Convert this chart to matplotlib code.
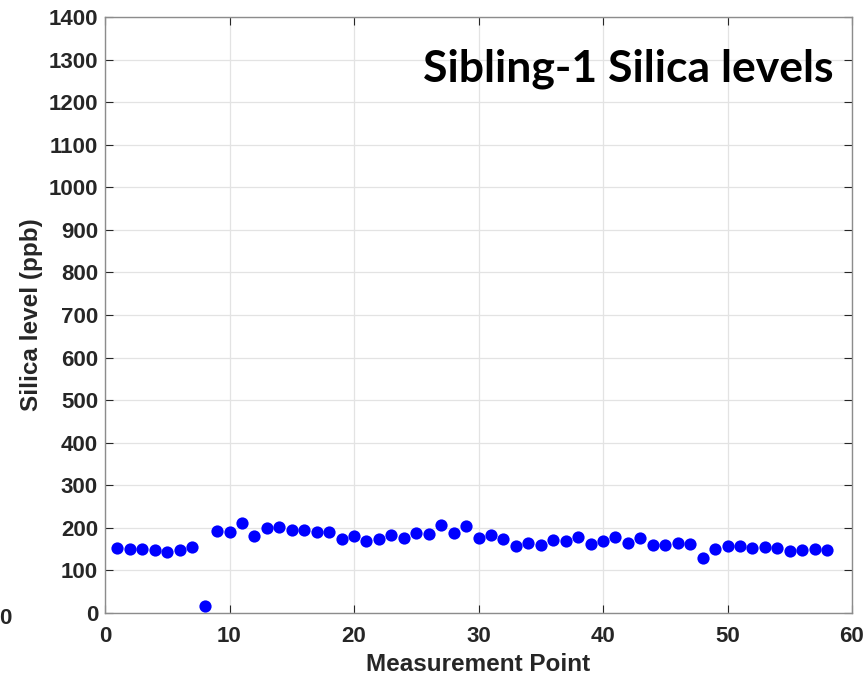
import matplotlib
matplotlib.use("Agg")
import matplotlib.pyplot as plt
from matplotlib.ticker import MultipleLocator

# --- DATA ---
points = list(range(1, 59))
silica_ppb = [
    153, 150, 150, 147, 143, 149, 156, 17, 193, 191,
    211, 182, 199, 202, 196, 196, 191, 190, 175, 182,
    168, 174, 183, 177, 187, 186, 207, 189, 204, 177,
    184, 173, 157, 164, 160, 171, 169, 178, 161, 169,
    178, 164, 177, 160, 160, 164, 163, 129, 150, 158,
    158, 152, 155, 152, 146, 148, 150, 149,
]
title_text = "Sibling-1 Silica levels"
x_label = "Measurement Point"
y_label = "Silica level (ppb)"

TICK_COLOR = "#262626"
AXIS_COLOR = "#8c8c8c"
GRID_COLOR = "#e3e3e3"

fig = plt.figure(figsize=(8.65, 6.8), dpi=100)
ax = fig.add_axes([105 / 865, 67 / 680, 747 / 865, 596 / 680])

ax.plot(points, silica_ppb, linestyle="none", marker="o", markersize=8.8,
        color="#0000ff", markeredgewidth=0, zorder=3)

ax.set_xlim(0, 60)
ax.set_ylim(0, 1400)
ax.xaxis.set_major_locator(MultipleLocator(10))
ax.yaxis.set_major_locator(MultipleLocator(100))

ax.grid(True, color=GRID_COLOR, linewidth=0.9, zorder=0)
ax.set_axisbelow(True)

for sp in ax.spines.values():
    sp.set_color(AXIS_COLOR)
    sp.set_linewidth(1.0)

ax.tick_params(direction="in", length=5.5, width=0.8, color=TICK_COLOR,
               top=True, right=True, labelsize=16, labelcolor=TICK_COLOR)
ax.tick_params(axis="x", pad=9)
ax.tick_params(axis="y", pad=5)
for lbl in ax.get_xticklabels() + ax.get_yticklabels():
    lbl.set_family("Liberation Sans")
    lbl.set_fontweight("bold")

ax.set_xlabel(x_label, fontsize=17.5, fontweight="bold", family="Liberation Sans",
              color=TICK_COLOR, labelpad=5)
ax.set_ylabel(y_label, fontsize=17.5, fontweight="bold", family="Liberation Sans",
              color=TICK_COLOR, labelpad=4)

# Title sits inside the axes, top right
ax.text(0.9746, 0.891, title_text, transform=ax.transAxes, ha="right", va="baseline",
        fontsize=32, fontweight="bold", family="Lato", color="black")

# stray tick label cut off at the left edge of the original image
fig.text(5 / 865, 1 - 618 / 680, "0", ha="center", va="center", fontsize=16,
         fontweight="bold", family="Liberation Sans", color=TICK_COLOR)

fig.savefig("out.png", dpi=100)
